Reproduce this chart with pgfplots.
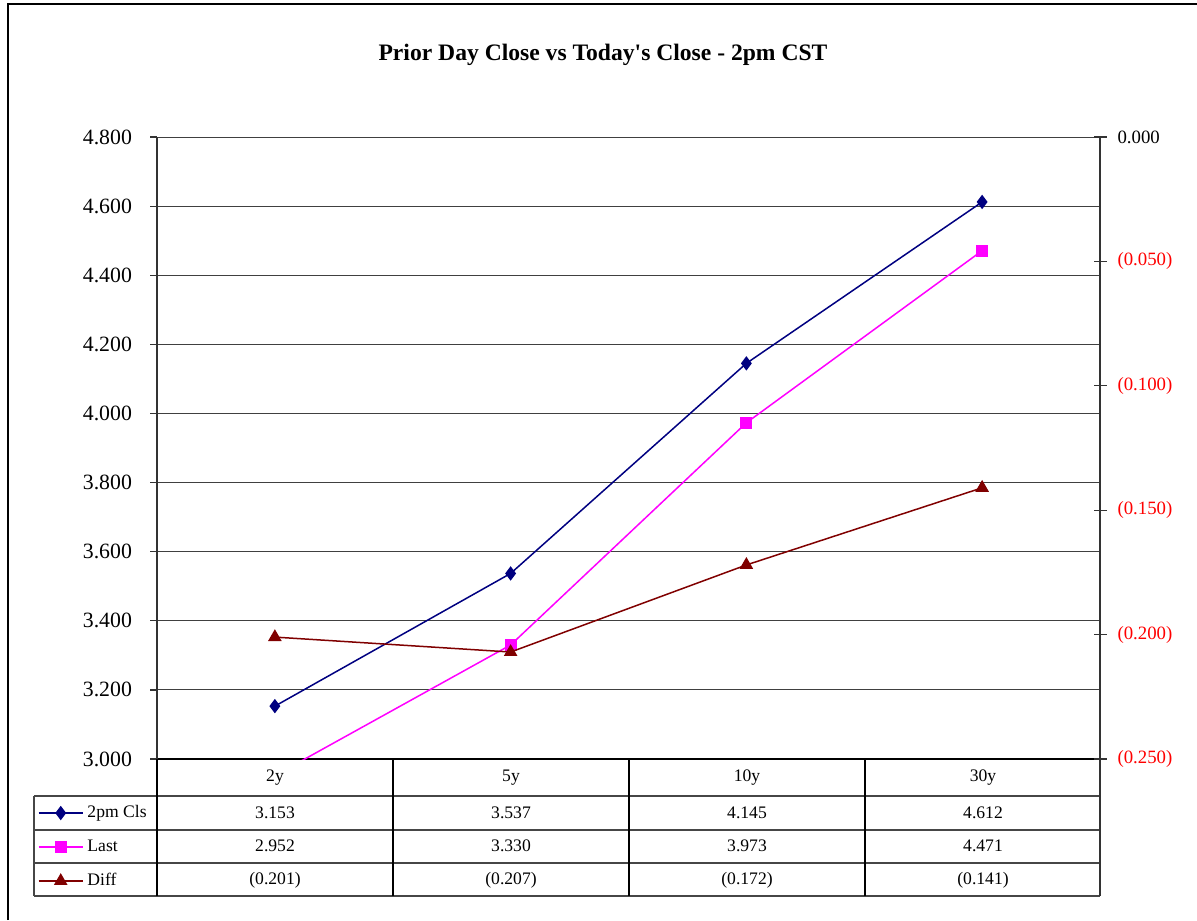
\documentclass[border=0pt]{standalone}
\usepackage{pgfplots}
\pgfplotsset{compat=1.18}
\usepackage{fontspec}
\setmainfont{Liberation Serif}
\newfontfamily\plainserif{Liberation Serif}
\definecolor{navyc}{RGB}{0,0,128}
\definecolor{magc}{RGB}{255,0,255}
\definecolor{drc}{RGB}{128,0,0}
\definecolor{redc}{RGB}{255,0,0}
\definecolor{tblc}{RGB}{70,70,70}

\begin{document}
\begin{tikzpicture}
\useasboundingbox (0,0) rectangle (598.5pt,-460pt);

\begin{axis}[
  name=main,
  at={(78.5pt,-379.5pt)}, anchor=south west,
  scale only axis, width=471.5pt, height=311pt,
  xmin=-0.5, xmax=3.5, ymin=3, ymax=4.8,
  axis x line*=bottom, axis y line*=left,
  axis line style={-},
  x axis line style={line width=1.4pt},
  y axis line style={line width=0.8pt, black!80},
  xtick=\empty,
  ytick={3,3.2,3.4,3.6,3.8,4,4.2,4.4,4.6,4.8},
  yticklabels={3.000,3.200,3.400,3.600,3.800,4.000,4.200,4.400,4.600,4.800},
  ymajorgrids,
  grid style={black!75, line width=0.5pt},
  tick style={black!80, line width=0.6pt},
  major tick length=3.5pt, tick align=outside,
  yticklabel style={font=\fontsize{10.9}{12}\selectfont, black, xshift=-5.5pt},
  legend style={at={(-0.1262,-0.0595)}, anchor=north west, draw=none, fill=none,
    inner sep=0pt, outer sep=0pt, row sep=0pt, column sep=2pt,
    nodes={inner sep=0pt, minimum height=17pt, font=\fontsize{8.8}{10}\selectfont}},
  legend cell align=left,
  legend image code/.code={\draw[mark repeat=2,mark phase=2,#1] plot coordinates {(0pt,0pt)(11pt,0pt)(22pt,0pt)};},
]
\addplot[navyc, line width=0.75pt, mark=diamond*, mark size=3pt, mark options={fill=navyc}]
  coordinates {(0,3.153)(1,3.537)(2,4.145)(3,4.612)};
\addlegendentry{2pm Cls}
\addplot[magc, line width=0.75pt, mark=square*, mark size=2.6pt, mark options={fill=magc}]
  coordinates {(0,2.952)(1,3.330)(2,3.973)(3,4.471)};
\addlegendentry{Last}
\addlegendimage{drc, line width=0.75pt, mark=triangle*, mark size=3.2pt, mark options={fill=drc}}
\addlegendentry{Diff}
\end{axis}

\begin{axis}[
  at={(78.5pt,-379.5pt)}, anchor=south west,
  scale only axis, width=471.5pt, height=311pt,
  xmin=-0.5, xmax=3.5, ymin=-0.25, ymax=0,
  axis x line=none, axis y line*=right,
  axis line style={-, line width=0.8pt, black!80},
  ytick={-0.25,-0.2,-0.15,-0.1,-0.05,0},
  yticklabels={\textcolor{redc}{(0.250)},\textcolor{redc}{(0.200)},\textcolor{redc}{(0.150)},\textcolor{redc}{(0.100)},\textcolor{redc}{(0.050)},0.000},
  tick style={black!80, line width=0.6pt},
  tick align=center, major tick length=6.5pt,
  yticklabel style={font=\fontsize{9.4}{11}\selectfont, xshift=2pt},
]
\addplot[drc, line width=0.75pt, mark=triangle*, mark size=3.2pt, mark options={fill=drc}]
  coordinates {(0,-0.201)(1,-0.207)(2,-0.172)(3,-0.141)};
\end{axis}

\begin{scope}[x=0.5pt,y=-0.5pt]
  \draw[line width=1pt] (8,920) -- (8,4) -- (1197,4);
  \node[font=\plainserif\fontsize{11.8}{14}\selectfont\bfseries] at (603,55) {Prior Day Close vs Today's Close - 2pm CST};
  % table
  \foreach \yy in {796,830,863,896} \draw[tblc, line width=0.9pt] (34,\yy) -- (1100,\yy);
  \draw[tblc, line width=0.9pt] (34,796) -- (34,896);
  \foreach \xx in {157,393,629,865} \draw[black, line width=0.8pt] (\xx,759) -- (\xx,896);
  \draw[black!80, line width=0.8pt] (1100,759) -- (1100,896);
  \begin{scope}[every node/.style={font=\fontsize{8.8}{10}\selectfont}]
    \node at (275,778) {2y};
    \node at (511,778) {5y};
    \node at (747,778) {10y};
    \node at (983,778) {30y};
    \node at (275,813) {3.153};
    \node at (511,813) {3.537};
    \node at (747,813) {4.145};
    \node at (983,813) {4.612};
    \node at (275,846) {2.952};
    \node at (511,846) {3.330};
    \node at (747,846) {3.973};
    \node at (983,846) {4.471};
    \node at (275,880) {(0.201)};
    \node at (511,880) {(0.207)};
    \node at (747,880) {(0.172)};
    \node at (983,880) {(0.141)};
  \end{scope}
\end{scope}
\end{tikzpicture}
\end{document}
